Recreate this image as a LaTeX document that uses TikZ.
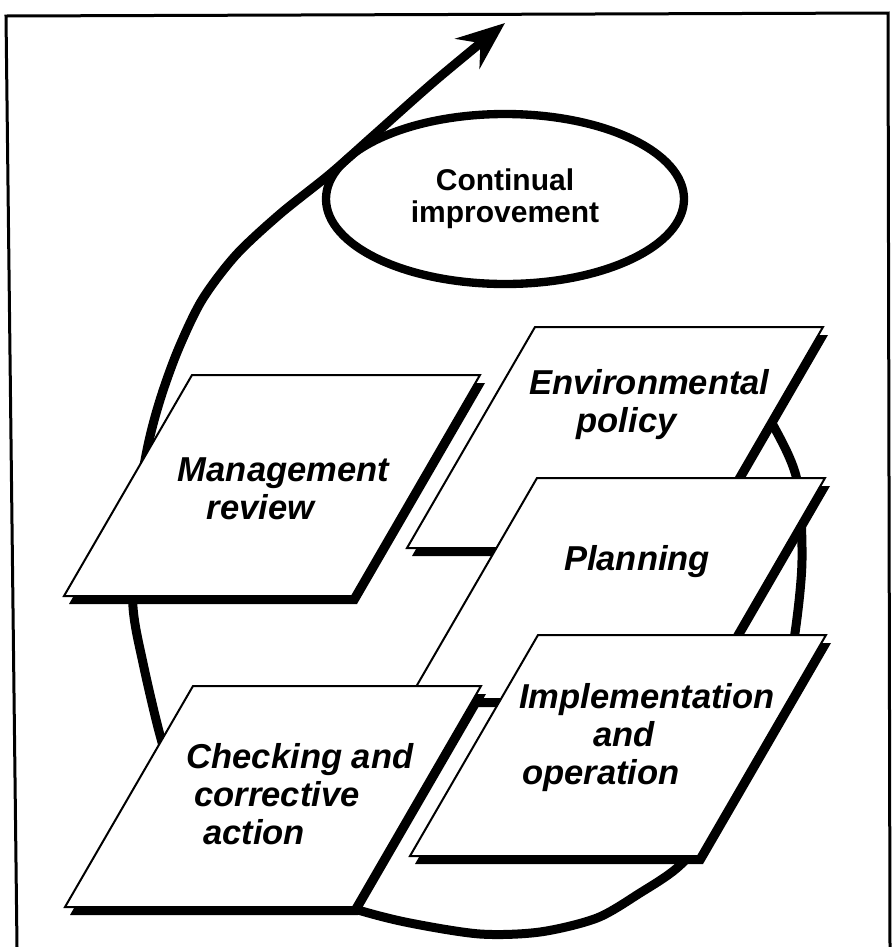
\documentclass[tikz,border=0pt]{standalone}
\usepackage{fontspec}
\setmainfont{Liberation Sans}
\usetikzlibrary{arrows.meta,shapes.geometric}
\newcommand{\lineshift}{\rule{6.9mm}{0pt}}

\begin{document}
\begin{tikzpicture}[x=0.3mm,y=-0.3mm,
  frameline/.style={line width=0.9mm,line join=miter},
  loopline/.style={line width=2.7mm,line cap=round},
  cardshadow/.style={fill=black},
  cardline/.style={draw=black,fill=white,line width=0.6mm,line join=miter},
  cardtext/.style={align=center,inner sep=0pt,
    font=\fontsize{29.5}{32.4}\selectfont\bfseries\itshape}]
\useasboundingbox (0,0) rectangle (892,947);

% Draw frame
\draw[frameline] (17,947) -- (6,16) -- (888,13) -- (890,947);

% Draw improvement loop
\draw[loopline,-{Stealth[length=14.5mm,width=11.5mm,inset=5mm]}]
  plot[smooth] coordinates {(735,365) (773,425) (797,480) (802,560) (795,633)
  (782,700) (748,770) (712,830) (677,868) (640,893) (597,918) (540,932)
  (480,934) (410,923) (358,910) (280,885) (215,838) (178,790) (160,735)
  (143,663) (133,607) (134,530) (147,450) (160,400) (178,350) (202,300)
  (236,255) (280,214) (330,174) (374,135) (436,80) (505,23)};

% Continual improvement
\node[draw,ellipse,line width=2.5mm,minimum width=107.4mm,minimum height=51mm,
  inner sep=0pt,align=center,font=\fontsize{25.6}{27.3}\selectfont\bfseries]
  (improve) at (505,199) {Continual\\improvement};

% Management review
\fill[cardshadow,shift={(5,8)}] (192,375) -- (480,375) -- (352,596) -- (64,596) -- cycle;
\draw[cardline] (192,375) -- (480,375) -- (352,596) -- (64,596) -- cycle;
\node[cardtext] (review) at (272,489) {\lineshift Management\\review\lineshift};

% Environmental policy
\fill[cardshadow,shift={(5,8)}] (535,327) -- (823,327) -- (695,548) -- (407,548) -- cycle;
\draw[cardline] (535,327) -- (823,327) -- (695,548) -- (407,548) -- cycle;
\node[cardtext] (policy) at (638,405) {\lineshift Environmental\\policy\lineshift};

% Planning
\fill[cardshadow,shift={(5,8)}] (537,478) -- (825,478) -- (697,699) -- (409,699) -- cycle;
\draw[cardline] (537,478) -- (825,478) -- (697,699) -- (409,699) -- cycle;
\node[cardtext] (planning) at (637,562) {Planning};

% Implementation and operation
\fill[cardshadow,shift={(5,8)}] (538,635) -- (826,635) -- (698,856) -- (410,856) -- cycle;
\draw[cardline] (538,635) -- (826,635) -- (698,856) -- (410,856) -- cycle;
\node[cardtext] (operation) at (624,738)
  {\lineshift\lineshift Implementation\\and\\operation\lineshift\lineshift};

% Checking and corrective action
\fill[cardshadow,shift={(5,8)}] (193,686) -- (481,686) -- (353,907) -- (65,907) -- cycle;
\draw[cardline] (193,686) -- (481,686) -- (353,907) -- (65,907) -- cycle;
\node[cardtext] (checking) at (277,794)
  {\lineshift\lineshift Checking and\\corrective\\action\lineshift\lineshift};
\end{tikzpicture}
\end{document}
